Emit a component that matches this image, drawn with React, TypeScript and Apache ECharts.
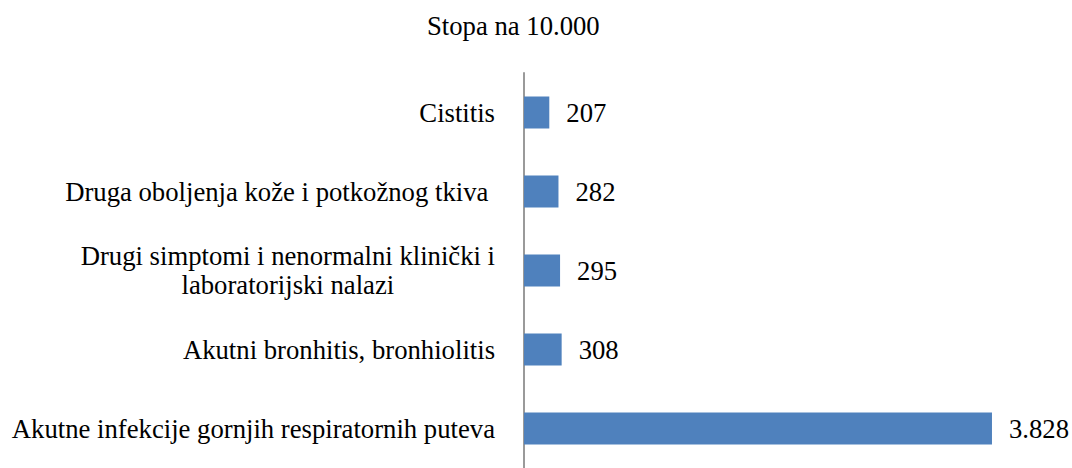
import React, { useEffect, useRef } from "react";
import * as echarts from "echarts";

const titleText = "Stopa na 10.000";
const categories = [
  "Cistitis",
  "Druga oboljenja kože i potkožnog tkiva ",
  "Drugi simptomi i nenormalni klinički i\nlaboratorijski nalazi",
  "Akutni bronhitis, bronhiolitis",
  "Akutne infekcije gornjih respiratornih puteva",
];
const values = [207, 282, 295, 308, 3828];

const FONT = "Liberation Serif";
const FS = 26.7;

function fmt(v: number): string {
  return String(v).replace(/\B(?=(\d{3})+(?!\d))/g, ".");
}

export default function App() {
  const ref = useRef<HTMLDivElement>(null);
  useEffect(() => {
    if (!ref.current) return;
    const chart = echarts.init(ref.current, undefined, { renderer: "svg" });
    chart.setOption({
      animation: false,
      backgroundColor: "#ffffff",
      textStyle: { fontFamily: FONT },
      title: {
        text: titleText,
        left: 422,
        top: 7,
        textStyle: { fontFamily: FONT, fontSize: FS, fontWeight: "normal", color: "#000" },
      },
      grid: { left: 524, top: 73, width: 489, height: 401, containLabel: false },
      xAxis: {
        type: "value",
        min: 0,
        max: 4000,
        show: false,
      },
      yAxis: {
        type: "category",
        inverse: true,
        data: categories,
        axisLine: { show: true, lineStyle: { color: "#9a9a9a", width: 2 } },
        axisTick: { show: false },
        splitLine: { show: false },
        axisLabel: {
          margin: 29,
          fontFamily: FONT,
          fontSize: FS,
          color: "#000",
          formatter: (v: string) =>
            v
              .split("\n")
              .map((l) => `{c|${l}}`)
              .join("\n"),
          rich: {
            c: { align: "center", fontFamily: FONT, fontSize: FS, color: "#000", lineHeight: 29 },
          },
        },
      },
      series: [
        {
          type: "bar",
          data: values,
          barWidth: 32,
          itemStyle: { color: "#4F81BD" },
          label: {
            show: true,
            position: "right",
            distance: 17,
            fontFamily: FONT,
            fontSize: FS,
            color: "#000",
            formatter: (p: any) => fmt(p.value),
          },
        },
      ],
    });
    return () => chart.dispose();
  }, []);
  return (
    <div
      ref={ref}
      style={{ position: "fixed", left: 0, top: 0, width: 1072, height: 468, background: "#fff" }}
    />
  );
}
